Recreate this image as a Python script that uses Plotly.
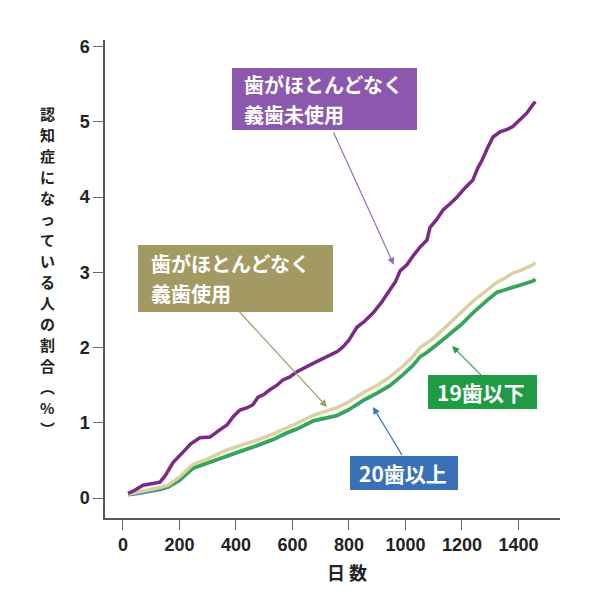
import plotly.graph_objects as go

# ---- data ----
purple_days = [18, 40, 71, 100, 131, 150, 177, 210, 240, 272, 308, 340, 368, 390, 414, 440, 460, 478, 500, 520,
               545, 566, 591, 616, 645, 673, 700, 733, 760, 779, 800, 828, 855, 885, 915, 945, 965, 981, 1005, 1027,
               1050, 1076, 1087, 1110, 1133, 1160, 1182, 1210, 1239, 1255, 1271, 1290, 1310, 1335, 1360, 1380, 1405,
               1430, 1451, 1460]
purple_vals = [0.06, 0.10, 0.17, 0.19, 0.21, 0.30, 0.47, 0.60, 0.72, 0.80, 0.81, 0.90, 0.97, 1.08, 1.17, 1.20, 1.24,
               1.34, 1.38, 1.44, 1.50, 1.57, 1.61, 1.68, 1.74, 1.79, 1.84, 1.90, 1.95, 2.01, 2.10, 2.27, 2.35, 2.46,
               2.60, 2.77, 2.88, 3.02, 3.10, 3.22, 3.33, 3.43, 3.60, 3.70, 3.83, 3.92, 4.00, 4.12, 4.23, 4.38, 4.49,
               4.65, 4.80, 4.87, 4.90, 4.94, 5.03, 5.12, 5.23, 5.27]

other_days = [18, 60, 100, 131, 160, 200, 248, 300, 368, 420, 474, 530, 580, 620, 673, 720, 757, 800, 850, 900, 945,
              990, 1027, 1051, 1076, 1110, 1140, 1168, 1200, 1240, 1288, 1324, 1350, 1380, 1410, 1451, 1460]
beige_vals = [0.05, 0.08, 0.12, 0.14, 0.17, 0.28, 0.45, 0.52, 0.64, 0.70, 0.77, 0.85, 0.93, 1.00, 1.10, 1.15, 1.20,
              1.28, 1.40, 1.50, 1.61, 1.75, 1.88, 2.00, 2.06, 2.16, 2.27, 2.37, 2.48, 2.62, 2.77, 2.87, 2.92, 2.99,
              3.03, 3.10, 3.13]
green_vals = [0.05, 0.07, 0.10, 0.12, 0.15, 0.24, 0.40, 0.47, 0.57, 0.63, 0.70, 0.78, 0.87, 0.93, 1.03, 1.07, 1.10,
              1.18, 1.30, 1.40, 1.50, 1.64, 1.77, 1.88, 1.94, 2.04, 2.14, 2.22, 2.32, 2.47, 2.63, 2.74, 2.77, 2.81,
              2.84, 2.89, 2.91]
blue_vals = [0.04, 0.06, 0.09, 0.11, 0.14, 0.23, 0.39, 0.46, 0.56, 0.62, 0.69, 0.77, 0.86, 0.92, 1.02, 1.06, 1.09,
             1.17, 1.29, 1.39, 1.49, 1.63, 1.76, 1.87, 1.93, 2.03, 2.13, 2.21, 2.31, 2.46, 2.62, 2.73, 2.76, 2.80,
             2.83, 2.88, 2.90]

x_ticks = [0, 200, 400, 600, 800, 1000, 1200, 1400]
y_ticks = [0, 1, 2, 3, 4, 5, 6]

label_purple = ["歯がほとんどなく", "義歯未使用"]
label_beige = ["歯がほとんどなく", "義歯使用"]
label_green = ["19歯以下"]
label_blue = ["20歯以上"]
y_title = "認知症になっている人の割合︵%︶"
x_title = "日 数"

C_PURPLE = "#7b2a85"
C_BEIGE = "#d9d1a1"
C_GREEN = "#33ab48"
C_BLUE = "#4a7cc6"

JP = "Noto Sans CJK JP"

fig = go.Figure()
fig.add_trace(go.Scatter(x=other_days, y=blue_vals, mode="lines", line=dict(color=C_BLUE, width=3)))
fig.add_trace(go.Scatter(x=other_days, y=green_vals, mode="lines", line=dict(color=C_GREEN, width=3.2)))
fig.add_trace(go.Scatter(x=other_days, y=beige_vals, mode="lines", line=dict(color=C_BEIGE, width=3.5)))
fig.add_trace(go.Scatter(x=purple_days, y=purple_vals, mode="lines", line=dict(color=C_PURPLE, width=3.5)))


def px_x(px):
    return (px - 105) / 455


def px_y(py):
    return (518 - py) / 478


ann = []
shapes = []


def arrow(tx, ty, hx, hy, color):
    return dict(x=hx, y=hy, ax=tx, ay=ty, xref="x", yref="y", axref="x", ayref="y",
                text="", showarrow=True, arrowhead=2, arrowsize=1.2, arrowwidth=1.2, arrowcolor=color)


ann.append(arrow(743, 4.88, 959, 3.10, "#9a6cc0"))
ann.append(arrow(404, 2.51, 722, 1.21, "#a39a63"))
ann.append(arrow(1274, 1.61, 1165, 2.02, "#2a9a4a"))
ann.append(arrow(991, 0.55, 885, 1.21, "#3f73c0"))


def label_box(lines, x0, x1, y0, y1, text_x, bg, size, pitch=30):
    shapes.append(dict(type="rect", xref="paper", yref="paper", x0=px_x(x0), x1=px_x(x1),
                       y0=px_y(y1), y1=px_y(y0), fillcolor=bg, line=dict(width=0), layer="above"))
    n = len(lines)
    cy = (y0 + y1) / 2
    for i, t in enumerate(lines):
        py = cy + (i - (n - 1) / 2) * pitch
        ann.append(dict(x=px_x(text_x), y=px_y(py), xref="paper", yref="paper", xanchor="left",
                        yanchor="middle", showarrow=False, text=t,
                        font=dict(family=JP, size=size, color="white", weight="bold")))


label_box(label_purple, 232, 417, 68, 130, 242, "#8c58ae", 20)
label_box(label_beige, 138, 333, 245, 312, 149, "#a39a63", 20)
label_box(label_green, 428, 537, 375, 409, 435, "#1f9a45", 21)
label_box(label_blue, 350, 458, 456, 490, 357, "#3a70b8", 21)

# y title: upright characters stacked vertically (as in the reference)
chars = list(y_title)
pitch = 21
center = 271
n = len(chars)
for i, ch in enumerate(chars):
    py = center + (i - (n - 1) / 2) * pitch
    ann.append(dict(x=px_x(47), y=px_y(py), xref="paper", yref="paper",
                    xanchor="center", yanchor="middle", showarrow=False, text=ch,
                    font=dict(family=JP, size=15, color="#222", weight="bold")))

ann.append(dict(x=px_x(347), y=px_y(572), xref="paper", yref="paper",
                xanchor="center", yanchor="middle", showarrow=False, text=x_title,
                font=dict(family=JP, size=18, color="#222", weight="bold")))

fig.update_layout(
    width=600, height=600,
    margin=dict(l=105, r=40, t=40, b=82),
    paper_bgcolor="white", plot_bgcolor="white",
    showlegend=False,
    annotations=ann,
    shapes=shapes,
    xaxis=dict(range=[-63.7, 1547], tickvals=x_ticks, ticks="outside", ticklen=10, tickwidth=1.2,
               tickcolor="#666", showline=True, linecolor="#555", linewidth=1.5, showgrid=False,
               zeroline=False, tickfont=dict(family="Liberation Sans", size=18, color="#222", weight="bold")),
    yaxis=dict(range=[-0.266, 6.09], tickvals=y_ticks, ticks="outside", ticklen=10, tickwidth=1.2,
               tickcolor="#666", showline=True, linecolor="#555", linewidth=1.5, showgrid=False,
               zeroline=False, tickfont=dict(family="Liberation Sans", size=18, color="#222", weight="bold")),
)

fig.write_html("out.html")
